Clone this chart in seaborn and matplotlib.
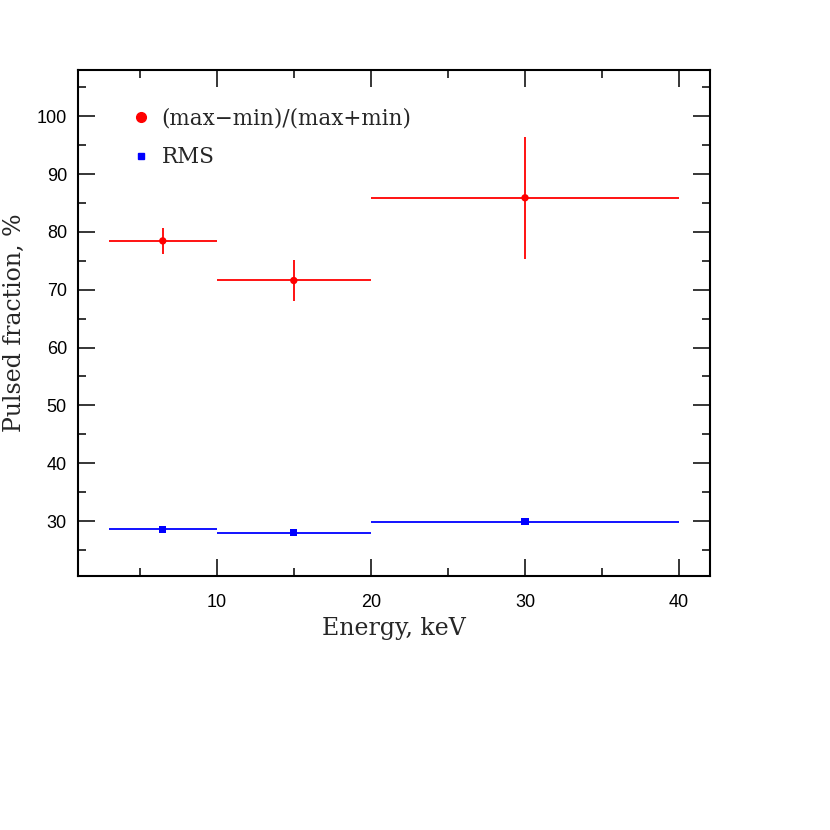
import matplotlib
matplotlib.use("Agg")
import matplotlib.pyplot as plt
import seaborn as sns
import pandas as pd
from matplotlib.ticker import MultipleLocator
from matplotlib.lines import Line2D

energy = [6.5, 15.0, 30.0]
e_low = [3.0, 10.0, 20.0]
e_high = [10.0, 20.0, 40.0]
pf_maxmin = [78.45, 71.6, 85.9]
pf_maxmin_err = [2.3, 3.6, 10.55]
pf_rms = [28.55, 28.0, 29.9]
pf_rms_err = [0.2, 0.2, 0.2]

sns.set_style("ticks")
plt.rcParams['font.family'] = ['Liberation Sans', 'DejaVu Sans']

df = pd.DataFrame({"energy": energy + energy,
                   "pf": pf_maxmin + pf_rms,
                   "kind": ["(max\u2212min)/(max+min)"] * 3 + ["RMS"] * 3})

fig = plt.figure(figsize=(8.3, 8.3), dpi=100)
ax = fig.add_axes([78/830, 1 - 576/830, (710-78)/830, (576-70)/830])

xerr_lo = [e - l for e, l in zip(energy, e_low)]
xerr_hi = [h - e for e, h in zip(energy, e_high)]
ax.errorbar(energy, pf_maxmin, xerr=[xerr_lo, xerr_hi], yerr=pf_maxmin_err,
            fmt='none', ecolor='red', elinewidth=1.3, capsize=0)
ax.errorbar(energy, pf_rms, xerr=[xerr_lo, xerr_hi], yerr=pf_rms_err,
            fmt='none', ecolor='blue', elinewidth=1.3, capsize=0)
sns.scatterplot(data=df, x="energy", y="pf", hue="kind", style="kind",
                palette={"(max\u2212min)/(max+min)": "red", "RMS": "blue"},
                markers={"(max\u2212min)/(max+min)": "o", "RMS": "s"},
                s=28, edgecolor='none', legend=False, ax=ax, zorder=3)

ax.set_xlim(1, 42)
ax.set_ylim(20.5, 108)
ax.xaxis.set_major_locator(MultipleLocator(10))
ax.xaxis.set_minor_locator(MultipleLocator(5))
ax.yaxis.set_major_locator(MultipleLocator(10))
ax.yaxis.set_minor_locator(MultipleLocator(5))
ax.tick_params(which='both', direction='in', top=True, right=True, width=1.1,
               labelsize=13, colors='black')
ax.tick_params(which='major', length=12)
ax.tick_params(axis='x', which='major', pad=13)
ax.tick_params(axis='y', which='major', pad=8)
ax.tick_params(which='minor', length=6)
for sp in ax.spines.values():
    sp.set_linewidth(1.5)
    sp.set_color('black')
    sp.set_visible(True)

ax.set_xlabel("Energy, keV", fontsize=17, family=['DejaVu Serif'], labelpad=4)
ax.set_ylabel("Pulsed fraction, %", fontsize=17, family=['DejaVu Serif'], labelpad=8)

handles = [Line2D([], [], ls='none', marker='o', color='red', markersize=7),
           Line2D([], [], ls='none', marker='s', color='blue', markersize=5)]
ax.legend(handles, ["(max\u2212min)/(max+min)", "RMS"], loc='upper left',
          bbox_to_anchor=(0.083, 0.925), frameon=False, handletextpad=0.44,
          borderpad=0, borderaxespad=0,
          prop={'family': 'DejaVu Serif', 'size': 15.5}, labelspacing=0.75,
          handlelength=1.0)

fig.savefig("out.png", dpi=100)
